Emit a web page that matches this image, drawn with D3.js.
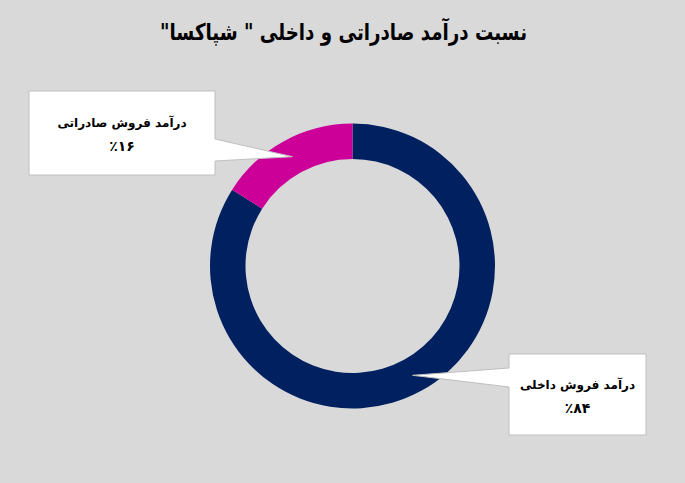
<!DOCTYPE html>
<html>
<head>
<meta charset="utf-8">
<script src="https://cdn.jsdelivr.net/npm/d3@7"></script>
<style>
  body { margin: 0; background: #d9d9d9; }
  svg { display: block; }
  text { font-family: "DejaVu Sans", sans-serif; font-weight: bold; fill: #000; }
</style>
</head>
<body>
<div id="chart"></div>
<script>
// data
var title = 'نسبت درآمد صادراتی و داخلی " شپاکسا"'
var labels = ['درآمد فروش داخلی', 'درآمد فروش صادراتی']
var values = [84, 16]
var colors = ['#002060', '#cc0099']

var width = 685, height = 483
var cx = 352.5, cy = 266
var outerR = 142.5, innerR = 107

// callout boxes, pointer goes from the box edge to the slice centre
var boxes = [
    { x: 509, y: 354, w: 137, h: 81, side: 'left', p0: 368, p1: 387 },
    { x: 29, y: 91, w: 186, h: 84, side: 'right', p0: 139, p1: 161 }
]

function fa(n) {
    return String(n).replace(/[0-9]/g, function (c) { return '۰۱۲۳۴۵۶۷۸۹'[+c] })
}

var svg = d3.select('#chart')
    .append('svg')
    .attr('width', width)
    .attr('height', height)

svg.append('rect')
    .attr('width', width)
    .attr('height', height)
    .attr('fill', '#d9d9d9')

svg.append('text')
    .attr('x', 343.5)
    .attr('y', 40)
    .attr('text-anchor', 'middle')
    .attr('direction', 'rtl')
    .attr('textLength', 367)
    .attr('lengthAdjust', 'spacingAndGlyphs')
    .style('font-size', '23px')
    .text(title)

var pie = d3.pie().sort(null).value(function (d) { return d })
var arc = d3.arc().innerRadius(innerR).outerRadius(outerR)
var midArc = d3.arc().innerRadius((innerR + outerR) / 2).outerRadius((innerR + outerR) / 2)

var g = svg.append('g')
    .attr('transform', 'translate(' + cx + ',' + cy + ')')

var arcs = pie(values)

g.selectAll('path.slice')
    .data(arcs)
    .enter()
    .append('path')
    .attr('class', 'slice')
    .attr('d', arc)
    .attr('fill', function (d, i) { return colors[i] })

// callouts
arcs.forEach(function (d, i) {
    var b = boxes[i]
    var c = midArc.centroid(d)
    var tx = cx + c[0], ty = cy + c[1]
    var x0 = b.x, y0 = b.y, x1 = b.x + b.w, y1 = b.y + b.h
    var p
    if (b.side === 'left') {
        p = [[x0, y0], [x1, y0], [x1, y1], [x0, y1], [x0, b.p1], [tx, ty], [x0, b.p0]]
    } else {
        p = [[x0, y0], [x1, y0], [x1, b.p0], [tx, ty], [x1, b.p1], [x1, y1], [x0, y1]]
    }
    svg.append('path')
        .attr('d', 'M' + p.join('L') + 'Z')
        .attr('fill', '#fff')
        .attr('stroke', '#bfbfbf')
        .attr('stroke-width', 1)

    svg.append('text')
        .attr('x', b.x + b.w / 2)
        .attr('y', b.y + b.h / 2 - 6)
        .attr('text-anchor', 'middle')
        .attr('direction', 'rtl')
        .style('font-size', '12px')
        .text(labels[i])

    svg.append('text')
        .attr('x', b.x + b.w / 2)
        .attr('y', b.y + b.h / 2 + 18)
        .attr('text-anchor', 'middle')
        .attr('direction', 'ltr')
        .style('font-size', '14px')
        .text('٪' + fa(values[i]))
})
</script>
</body>
</html>
